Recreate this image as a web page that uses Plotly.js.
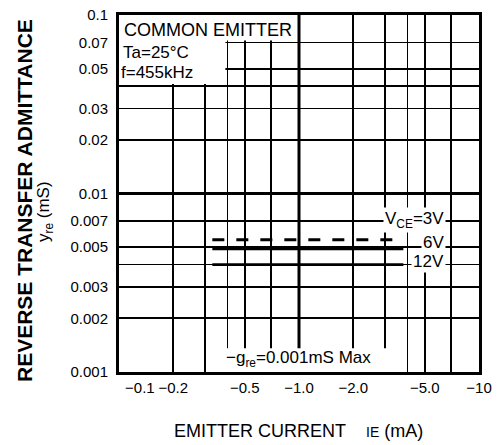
<!DOCTYPE html>
<html>
<head>
<meta charset="utf-8">
<script src="https://cdn.plot.ly/plotly-3.0.1.min.js"></script>
<style>
  html, body { margin: 0; padding: 0; background: #fff; }
  #chart { width: 497px; height: 445px; }
</style>
</head>
<body>
<div id="chart"></div>
<script>
// ---- data ----
const emitterCurrent = [-0.33, -3.8];          // I_E (mA), extent of the curves
const yre3V  = [0.0055, 0.0055];              // y_re (mS) at VCE = 3V (dashed)
const yre6V  = [0.0049, 0.0049];              // y_re (mS) at VCE = 6V
const yre12V = [0.0040, 0.0040];              // y_re (mS) at VCE = 12V
const curveLabels = ['V<sub>CE</sub>=3V', '6V', '12V'];

// labelled ticks and extra (unlabelled) grid lines
const xTickVals  = [0.1, 0.2, 0.5, 1, 2, 5, 10];
const xTickText  = ['\u00a0\u00a0\u00a0\u00a0\u00a0\u00a0\u00a0\u00a0\u00a0\u00a0\u22120.1', '\u22120.2', '\u22120.5', '\u22121.0', '\u22122.0', '\u22125.0', '\u221210'];
const xExtraGrid = [0.3, 0.4, 0.7, 3, 4, 7];
const yTickVals  = [0.001, 0.002, 0.003, 0.005, 0.007, 0.01, 0.02, 0.03, 0.05, 0.07, 0.1];
const yTickText  = ['0.001', '0.002', '0.003', '0.005', '0.007', '0.01', '0.02', '0.03', '0.05', '0.07', '0.1'];
const yExtraGrid = [0.004, 0.04];

const FONT = 'Liberation Sans, Arial, Helvetica, sans-serif';
const absX = emitterCurrent.map(v => -v);

const traces = [
  { x: absX, y: yre3V,  mode: 'lines', line: { color: '#000', width: 3, dash: '12px,12px' }, hoverinfo: 'skip', showlegend: false },
  { x: absX, y: yre6V,  mode: 'lines', line: { color: '#000', width: 2.8 }, hoverinfo: 'skip', showlegend: false },
  { x: absX, y: yre12V, mode: 'lines', line: { color: '#000', width: 2.8 }, hoverinfo: 'skip', showlegend: false }
];

function px2paperX(p) { return (p - 119) / 360; }
function px2paperY(p) { return (372 - p) / 357; }

const gridStyle = { showgrid: true, gridcolor: '#000', gridwidth: 1.6 };

const layout = {
  width: 497, height: 445,
  margin: { l: 119, r: 18, t: 15, b: 73 },
  paper_bgcolor: '#fff', plot_bgcolor: '#fff',
  font: { family: FONT, color: '#000', size: 15 },
  showlegend: false,
  xaxis: Object.assign({
    type: 'log', range: [-1, 1],
    tickmode: 'array', tickvals: xTickVals, ticktext: xTickText,
    minor: Object.assign({ tickmode: 'array', tickvals: xExtraGrid, ticks: '' }, gridStyle),
    showline: true, linecolor: '#000', linewidth: 3, mirror: true,
    ticks: '', ticklabelstandoff: 0, zeroline: false,
    tickfont: { family: FONT, size: 15, color: '#000' }
  }, gridStyle),
  yaxis: Object.assign({
    type: 'log', range: [-3, -1],
    tickmode: 'array', tickvals: yTickVals, ticktext: yTickText,
    minor: Object.assign({ tickmode: 'array', tickvals: yExtraGrid, ticks: '' }, gridStyle),
    showline: true, linecolor: '#000', linewidth: 3, mirror: true,
    ticks: '', ticklabelstandoff: 5, zeroline: false,
    tickfont: { family: FONT, size: 15, color: '#000' }
  }, gridStyle),
  shapes: [
    // heavier decade grid lines
    { type: 'line', xref: 'x', yref: 'paper', x0: 1, x1: 1, y0: 0, y1: 1, line: { color: '#000', width: 3 }, layer: 'between' },
    { type: 'line', xref: 'paper', yref: 'y', x0: 0, x1: 1, y0: 0.01, y1: 0.01, line: { color: '#000', width: 3 }, layer: 'between' },
    // white label areas that interrupt the grid
    { type: 'rect', xref: 'x', yref: 'y', x0: 0.1, x1: 0.97, y0: 0.072, y1: 0.1, fillcolor: '#fff', line: { width: 0 }, layer: 'between' },
    { type: 'rect', xref: 'x', yref: 'y', x0: 0.1, x1: 0.39, y0: 0.041, y1: 0.1, fillcolor: '#fff', line: { width: 0 }, layer: 'between' },
    { type: 'rect', xref: 'x', yref: 'y', x0: 0.36, x1: 3.75, y0: 0.001, y1: 0.00136, fillcolor: '#fff', line: { width: 0 }, layer: 'between' }
  ],
  annotations: [
    { text: 'COMMON EMITTER', xref: 'paper', yref: 'paper', x: px2paperX(122), y: px2paperY(30), xanchor: 'left', yanchor: 'middle', showarrow: false, font: { family: FONT, size: 18 } },
    { text: 'Ta=25°C', xref: 'paper', yref: 'paper', x: px2paperX(121), y: px2paperY(53), xanchor: 'left', yanchor: 'middle', showarrow: false, font: { family: FONT, size: 17 } },
    { text: 'f=455kHz', xref: 'paper', yref: 'paper', x: px2paperX(119), y: px2paperY(72), xanchor: 'left', yanchor: 'middle', showarrow: false, font: { family: FONT, size: 17 } },
    { text: curveLabels[0], xref: 'paper', yref: 'paper', x: px2paperX(446), y: px2paperY(220), xanchor: 'right', yanchor: 'middle', showarrow: false, bgcolor: '#fff', borderpad: 1, font: { family: FONT, size: 17 } },
    { text: curveLabels[1], xref: 'paper', yref: 'paper', x: px2paperX(446), y: px2paperY(242), xanchor: 'right', yanchor: 'middle', showarrow: false, bgcolor: '#fff', borderpad: 1, font: { family: FONT, size: 17 } },
    { text: curveLabels[2], xref: 'paper', yref: 'paper', x: px2paperX(446), y: px2paperY(261), xanchor: 'right', yanchor: 'middle', showarrow: false, bgcolor: '#fff', borderpad: 1, font: { family: FONT, size: 17 } },
    { text: '\u2212g<sub>re</sub>=0.001mS Max', xref: 'paper', yref: 'paper', x: px2paperX(224), y: px2paperY(359), xanchor: 'left', yanchor: 'middle', showarrow: false, font: { family: FONT, size: 17 } },
    { text: '<b>REVERSE TRANSFER ADMITTANCE</b>', xref: 'paper', yref: 'paper', x: px2paperX(25), y: px2paperY(201), xanchor: 'center', yanchor: 'middle', textangle: -90, showarrow: false, font: { family: FONT, size: 21 } },
    { text: 'y<sub>re</sub> (mS)', xref: 'paper', yref: 'paper', x: px2paperX(45), y: px2paperY(212), xanchor: 'center', yanchor: 'middle', textangle: -90, showarrow: false, font: { family: FONT, size: 17 } },
    { text: 'EMITTER CURRENT\u00a0\u00a0\u00a0\u00a0<span style="font-size:14px">IE</span> (mA)', xref: 'paper', yref: 'paper', x: px2paperX(298), y: px2paperY(431), xanchor: 'center', yanchor: 'middle', showarrow: false, font: { family: FONT, size: 18 } }
  ]
};

Plotly.newPlot('chart', traces, layout, { staticPlot: true, displayModeBar: false });
</script>
</body>
</html>
